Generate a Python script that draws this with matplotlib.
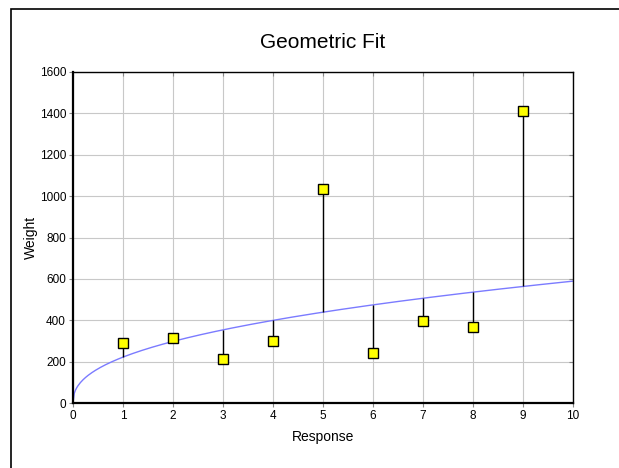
import numpy as np
import matplotlib
matplotlib.use("Agg")
import matplotlib.pyplot as plt
from matplotlib.patches import Rectangle

response = [1, 2, 3, 4, 5, 6, 7, 8, 9]
weight = [290, 312, 215, 298, 1035, 243, 395, 365, 1413]

x_ticks = [0, 1, 2, 3, 4, 5, 6, 7, 8, 9, 10]
y_ticks = [0, 200, 400, 600, 800, 1000, 1200, 1400, 1600]

plt.rcParams["font.family"] = ["Liberation Sans", "DejaVu Sans"]

# geometric fit y = a * x^b, done on log-log scale
b, log_a = np.polyfit(np.log(response), np.log(weight), 1)
a = np.exp(log_a)

xs = np.linspace(0, 10, 400)
fit = a * xs ** b
fit_at_pts = a * np.array(response, dtype=float) ** b

fig = plt.figure(figsize=(6.19, 4.68), dpi=100)
ax = fig.add_axes([73 / 619, 1 - 403 / 468, 500 / 619, 331 / 468])

# outer frame (cut off at the right and bottom)
fig.patches.append(Rectangle((11 / 619, -0.05), 1.05, 1 - 9 / 468 + 0.05,
                             transform=fig.transFigure, fill=False,
                             edgecolor="black", linewidth=1.2))

ax.vlines(response, fit_at_pts, weight, colors="black", linewidth=1, zorder=3)
ax.plot(xs, fit, color="#7b7bff", linewidth=1, zorder=2)
ax.plot(response, weight, "s", markersize=7.5, markerfacecolor="#ffff00",
        markeredgecolor="black", markeredgewidth=1, zorder=4, clip_on=False)

ax.set_xlim(0, 10)
ax.set_ylim(0, 1600)
ax.set_xticks(x_ticks)
ax.set_yticks(y_ticks)
ax.grid(True, color="#c8c8c8", linewidth=0.8)
ax.set_axisbelow(True)

ax.tick_params(axis="both", labelsize=8.5, direction="out", length=3,
               color="#888888", pad=2)
ax.tick_params(top=True, right=True, which="both")
for t in ax.xaxis.get_major_ticks():
    t.tick2line.set_marker(3)
for t in ax.yaxis.get_major_ticks():
    t.tick2line.set_marker(0)

for side in ["left", "bottom"]:
    ax.spines[side].set_linewidth(1.6)
for side in ["top", "right"]:
    ax.spines[side].set_linewidth(1.0)

ax.set_title("Geometric Fit", fontsize=15, pad=17)
ax.set_xlabel("Response", fontsize=10, labelpad=6)
ax.set_ylabel("Weight", fontsize=10, labelpad=1)

fig.savefig("out.png", dpi=100)
